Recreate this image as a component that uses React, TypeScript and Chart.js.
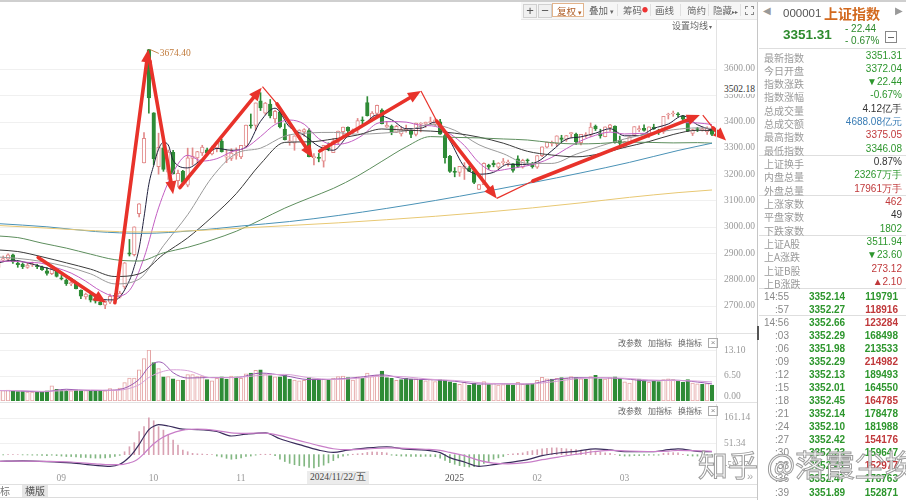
import React, { useEffect, useRef } from "react";
import { Chart, registerables } from "chart.js";

Chart.register(...registerables);

// ---------------- data: index 0 = 2024-08-15 ... index 147 = 2025-03-28 ----------------
const OPEN = [
  2846, 2873, 2877, 2893, 2862, 2857, 2846, 2855, 2853, 2846, 2833, 2822,
  2838, 2806, 2796, 2783, 2785, 2758, 2733, 2741, 2723, 2714, 2702, 2713, 2738, 2732, 2771, 2901, 2894, 3050, 3243,
  3674, 3433, 3229, 3300, 3208, 3283, 3175, 3212, 3158, 3260, 3262, 3281, 3293, 3277, 3300, 3326, 3265, 3260,
  3271, 3266, 3307, 3385, 3385, 3479, 3432, 3467, 3410, 3437, 3372, 3323, 3318, 3339, 3361, 3366, 3263, 3264, 3250, 3301, 3282,
  3322, 3362, 3378, 3360, 3367, 3404, 3472, 3413, 3431, 3444, 3379, 3383, 3359, 3353, 3367, 3365, 3351, 3390, 3390, 3396, 3390, 3399,
  3347, 3268, 3209, 3207, 3222, 3224, 3213, 3142, 3160, 3235, 3242, 3227, 3244, 3242, 3239, 3258, 3227, 3254,
  3241, 3227, 3270, 3303, 3317, 3316, 3338, 3332, 3354, 3353, 3320, 3347, 3348, 3383, 3356, 3343, 3377, 3383,
  3329, 3303, 3318, 3348, 3369, 3374, 3350, 3379, 3368, 3361, 3425, 3429, 3427, 3422, 3401, 3355, 3371, 3369, 3361, 3372.04,
];
const HIGH = [
  2880, 2889, 2897, 2896, 2866, 2863, 2862, 2866, 2857, 2851, 2845, 2853,
  2840, 2815, 2802, 2796, 2792, 2760, 2748, 2744, 2729, 2723, 2719, 2744, 2746, 2755, 2864, 2952, 3000, 3088, 3358,
  3674.4, 3434, 3356, 3312, 3292, 3291, 3216, 3215, 3299, 3300, 3287, 3310, 3299, 3307, 3324, 3333, 3293, 3297,
  3300, 3310, 3387, 3429, 3471, 3510, 3473, 3484, 3443, 3439, 3392, 3350, 3346, 3369, 3373, 3373, 3278, 3279, 3310, 3319, 3336,
  3364, 3379, 3380, 3372, 3412, 3418, 3495, 3438, 3463, 3449, 3401, 3387, 3386, 3379, 3387, 3370, 3394, 3396, 3398, 3417, 3411, 3409,
  3352, 3272, 3225, 3230, 3244, 3231, 3224, 3161, 3243, 3238, 3252, 3244, 3260, 3254, 3240, 3270, 3257, 3258,
  3245, 3271, 3304, 3322, 3326, 3346, 3348, 3347, 3359, 3356, 3352, 3358, 3395, 3387, 3371, 3380, 3390, 3384,
  3345, 3325, 3342, 3381, 3384, 3388, 3380, 3390, 3371, 3420, 3432, 3440, 3434, 3424, 3405, 3371, 3378, 3378, 3380, 3375.05,
];
const LOW = [
  2843, 2867, 2870, 2861, 2846, 2841, 2842, 2849, 2841, 2834, 2816, 2818,
  2809, 2798, 2777, 2776, 2764, 2727, 2725, 2714, 2710, 2703, 2689, 2708, 2729, 2729, 2765, 2889, 2889, 3038, 3243,
  3432, 3235, 3200, 3211, 3180, 3201, 3152, 3169, 3152, 3235, 3244, 3271, 3272, 3273, 3285, 3284, 3244, 3252,
  3257, 3259, 3303, 3375, 3367, 3442, 3427, 3414, 3395, 3376, 3330, 3310, 3291, 3333, 3344, 3266, 3235, 3247, 3227, 3289, 3282,
  3314, 3345, 3353, 3353, 3358, 3391, 3421, 3408, 3421, 3391, 3378, 3350, 3358, 3345, 3360, 3339, 3346, 3361, 3378, 3389, 3384, 3351,
  3242, 3207, 3190, 3192, 3180, 3210, 3164, 3141, 3160, 3218, 3228, 3222, 3235, 3231, 3208, 3226, 3223, 3241,
  3223, 3222, 3267, 3300, 3307, 3306, 3323, 3325, 3340, 3313, 3311, 3340, 3343, 3366, 3337, 3342, 3364, 3318,
  3297, 3300, 3316, 3346, 3362, 3364, 3339, 3370, 3351, 3355, 3410, 3420, 3418, 3403, 3362, 3347, 3362, 3364, 3351, 3346.08,
];
const CLOSE = [
  2877, 2879, 2893, 2866, 2856, 2848, 2854, 2855, 2848, 2837, 2823, 2842,
  2811, 2802, 2784, 2788, 2765, 2736, 2744, 2721, 2717, 2704, 2717, 2736, 2736, 2748, 2863, 2896, 3000, 3087, 3336,
  3490, 3259, 3302, 3218, 3284, 3201, 3203, 3169, 3262, 3268, 3286, 3303, 3280, 3300, 3322, 3286, 3266, 3280,
  3272, 3310, 3387, 3384, 3471, 3452, 3470, 3422, 3439, 3380, 3331, 3324, 3346, 3368, 3370, 3267, 3264, 3260, 3310, 3296, 3326,
  3364, 3379, 3365, 3369, 3404, 3403, 3423, 3432, 3462, 3392, 3386, 3361, 3382, 3370, 3368, 3351, 3394, 3393, 3398, 3400, 3407, 3352,
  3263, 3211, 3207, 3230, 3230, 3211, 3169, 3161, 3241, 3227, 3236, 3242, 3244, 3243, 3214, 3230, 3253, 3251,
  3229, 3271, 3304, 3322, 3318, 3346, 3332, 3347, 3356, 3324, 3352, 3351, 3379, 3373, 3346, 3380, 3388, 3321,
  3317, 3324, 3342, 3381, 3373, 3366, 3380, 3372, 3359, 3420, 3426, 3430, 3426, 3409, 3365, 3370, 3370, 3369, 3374, 3351.31,
];
// volume, 亿手
const VOLUME = [
  2.6, 2.7, 2.8, 2.5, 2.4, 2.4, 2.3, 2.3, 2.3, 2.4, 2.6, 3.9,
  3.0, 2.8, 2.8, 2.6, 2.8, 2.7, 2.7, 2.6, 2.6, 2.7, 2.6, 3.2, 2.9, 3.3,
  4.7, 5.9, 5.9, 8.0, 10.9, 13.1,
  9.9, 8.3, 6.2, 6.3, 5.7, 5.4, 5.3, 6.8, 6.8, 6.3, 6.4, 5.5, 5.2, 5.8, 6.2, 5.6, 6.4,
  6.2, 5.8, 7.0, 7.2, 7.9, 8.0, 7.0, 6.5, 6.2, 6.2, 6.6, 5.6, 5.4, 5.2, 5.3, 6.0, 5.7, 5.3, 5.6, 5.4, 5.9,
  6.3, 6.4, 6.0, 5.4, 6.2, 5.8, 7.2, 6.3, 6.6, 7.7, 6.0, 5.8, 5.3, 5.5, 5.8, 5.6, 5.7, 5.3, 5.2, 5.6, 5.0, 5.5,
  5.4, 4.9, 4.6, 4.3, 4.8, 4.0, 4.6, 4.1, 5.0, 4.2, 4.6, 4.1, 4.2, 4.2, 4.0, 4.8, 4.3, 4.4,
  4.5, 5.3, 6.1, 5.7, 5.6, 5.8, 6.0, 5.8, 6.3, 6.0, 5.7, 5.6, 6.3, 6.6, 5.7, 5.6, 6.0, 6.2,
  5.8, 4.9, 4.6, 5.6, 5.6, 5.2, 4.8, 5.1, 5.0, 5.5, 5.7, 5.5, 5.1, 4.8, 5.5, 4.6, 4.4, 4.3, 4.5, 4.12,
];
const MACD_HIST = [
  -2, -1, 0, 1, 0, -1, -1, -2, -2, -3, -4, -2, -4,
  -6, -8, -8, -10, -12, -12, -14, -15, -15, -14, -12, -8, -3,
  13, 35, 53, 101, 123, 162, 149, 123, 108, 89, 64, 42, 20, 13, 6,
  4, 3, 2, 1, -6, -10, -16, -20, -18, -14, -8, -6, -2, 2, 2, 2, -4,
  -20, -30, -38, -44, -48, -50, -56, -58, -52, -46, -36, -26,
  -14, -6, -2, 2, 4, 6, 10, 12, 12, 10, 8,
  -2, -4, -6, -7, -8, -8, -8, -7, -8, -9,
  -15, -25, -35, -42, -48, -52, -54, -53, -50, -38, -30, -20, -14, -8,
  2, 4, 6, 8, 14, 18, 22, 26, 28, 30, 30, 28, 26, 24,
  22, 20, 18, 18, 16, 12, 8, 6,
  0, -4, -6, -6, -4, -4, -3, -2, -2, -2,
  6, 8, 9, 8,
  2, -4, -6, -6, -5, -4, -6,
];

// moving averages (x = candle index)
const MA5_X = [0, 3, 6, 9, 12, 15, 18, 21, 24, 27, 28, 29, 30, 31, 32, 33, 34, 35, 36, 39, 42, 45, 48, 51, 54, 57, 60, 63, 66, 69, 72, 75, 78, 81, 84, 87, 90, 93, 96, 99, 102, 105, 108, 111, 114, 117, 120, 123, 126, 129, 132, 135, 138, 141, 144, 147];
const MA5 = [2863, 2873, 2863, 2848, 2832, 2805, 2763, 2724, 2722, 2796, 2849, 2919, 3036, 3162, 3234, 3295, 3321, 3311, 3253, 3224, 3258, 3298, 3291, 3303, 3401, 3451, 3379, 3348, 3306, 3291, 3346, 3384, 3425, 3407, 3373, 3375, 3398, 3327, 3228, 3200, 3207, 3238, 3237, 3247, 3289, 3333, 3342, 3356, 3373, 3346, 3347, 3374, 3391, 3422, 3388, 3367];
const MA10_X = [0, 3, 6, 9, 12, 15, 18, 21, 24, 27, 30, 33, 36, 39, 42, 45, 48, 51, 54, 57, 60, 63, 66, 69, 72, 75, 78, 81, 84, 87, 90, 93, 96, 99, 102, 105, 108, 111, 114, 117, 120, 123, 126, 129, 132, 135, 138, 141, 144, 147];
const MA10 = [2869, 2869, 2865, 2861, 2844, 2824, 2793, 2757, 2736, 2758, 2882, 3072, 3207, 3272, 3250, 3259, 3285, 3301, 3343, 3389, 3406, 3390, 3335, 3313, 3320, 3348, 3393, 3400, 3398, 3386, 3382, 3354, 3309, 3244, 3212, 3220, 3229, 3241, 3264, 3297, 3327, 3348, 3360, 3353, 3355, 3356, 3374, 3396, 3395, 3389];
const MA_LONG_X = [0, 4, 9, 14, 19, 24, 29, 34, 39, 44, 49, 54, 59, 64, 69, 74, 79, 84, 89, 94, 99, 104, 109, 114, 119, 124, 129, 134, 139, 144, 147];
const MA20 = [2885, 2880, 2868, 2849, 2821, 2783, 2801, 2928, 3046, 3188, 3279, 3299, 3345, 3357, 3359, 3352, 3356, 3365, 3389, 3367, 3312, 3278, 3241, 3241, 3276, 3307, 3334, 3354, 3369, 3376, 3374];
const MA30 = [2912, 2906, 2886, 2863, 2839, 2811, 2821, 2895, 2958, 3037, 3126, 3239, 3321, 3323, 3334, 3349, 3372, 3367, 3364, 3356, 3341, 3318, 3287, 3273, 3266, 3278, 3302, 3324, 3351, 3367, 3366];
const MA60 = [2965, 2959, 2938, 2919, 2896, 2875, 2870, 2901, 2922, 2950, 2983, 3026, 3071, 3109, 3146, 3193, 3249, 3304, 3343, 3340, 3338, 3334, 3330, 3320, 3315, 3317, 3322, 3321, 3319, 3320, 3318];
const MA_SLOW_X = [0, 10, 20, 30, 40, 50, 60, 70, 80, 90, 100, 110, 120, 130, 140, 147];
const MA120 = [3012, 3000, 2982, 2975, 2985, 3003, 3020, 3043, 3070, 3100, 3133, 3168, 3205, 3245, 3290, 3318];
const MA250 = [3005, 2995, 2985, 2980, 2985, 2995, 3005, 3015, 3027, 3040, 3055, 3072, 3091, 3112, 3130, 3140];

const VOL_MA5_X = [0, 4, 9, 14, 19, 24, 29, 31, 33, 34, 36, 39, 44, 49, 54, 59, 64, 69, 74, 79, 84, 89, 94, 99, 104, 109, 114, 119, 124, 129, 134, 139, 144, 147];
const VOL_MA5 = [2.7, 2.6, 2.34, 3.02, 2.68, 2.8, 5.56, 8.76, 10.04, 9.68, 7.28, 5.9, 6.04, 6.04, 7.18, 6.5, 5.5, 5.58, 6.06, 6.72, 5.68, 5.48, 5.08, 4.36, 4.42, 4.34, 5.44, 5.98, 5.98, 5.7, 5.16, 5.36, 4.88, 4.38];
const VOL_MA10_X = [0, 4, 9, 14, 19, 24, 29, 31, 34, 36, 39, 44, 49, 54, 59, 64, 69, 74, 79, 84, 89, 94, 99, 104, 109, 114, 119, 124, 129, 134, 139, 144, 147];
const VOL_MA10 = [2.7, 2.7, 2.47, 2.68, 2.85, 2.74, 4.18, 6.05, 7.62, 8.02, 7.79, 5.97, 6.04, 6.61, 6.84, 6.0, 5.54, 5.82, 6.39, 6.2, 5.58, 5.28, 4.72, 4.39, 4.38, 4.89, 5.71, 5.98, 5.84, 5.43, 5.26, 5.12, 4.9];

const MACD_X = [0, 5, 10, 15, 20, 23, 25, 27, 28, 29, 30, 31, 32, 33, 35, 38, 41, 45, 48, 51, 55, 58, 62, 66, 69, 72, 76, 80, 84, 88, 91, 93, 96, 99, 102, 105, 109, 112, 116, 119, 123, 126, 129, 132, 135, 138, 140, 144, 147];
const DIF = [-29, -27, -30, -36, -47, -51, -42, -10, 15, 45, 80, 110, 125, 132, 126, 112, 110, 102, 82, 90, 96, 70, 44, 20, 10, 20, 30, 35, 24, 20, 9, -13, -32, -51, -44, -35, -22, -4, 9, 15, 26, 21, 13, 13, 13, 22, 26, 15, 13];
const DEA = [-29, -28, -29, -32, -40, -44, -44, -36, -29, -15, 5, 27, 48, 65, 88, 108, 112, 106, 96, 94, 95, 84, 62, 40, 26, 22, 25, 30, 28, 24, 19, 10, -4, -25, -37, -40, -34, -22, -8, 2, 14, 19, 17, 15, 14, 16, 19, 17, 15];

// axis ticks
const PRICE_TICKS = [2700, 2800, 2900, 3000, 3100, 3200, 3300, 3400, 3500, 3600];
const VOL_TICKS = [13.1, 6.5, 0];
const MACD_TICKS = [161.14, 51.34, -58.27];
const X_TICK_IDX = [12, 31, 49, 92, 110, 128];
const X_TICK_LABELS = ["09", "10", "11", "2025", "02", "03"];

// hand-drawn trend arrows (candle index, price)
const ARROWS = [
  [8.2, 2883, 22.2, 2711],
  [24.0, 2711, 30.9, 3675],
  [31.2, 3630, 36.0, 3124],
  [37.4, 3149, 54.24, 3529],
  [57.4, 3467, 64.8, 3262],
  [66.2, 3288, 87.05, 3516],
  [90.3, 3402, 102.65, 3108],
  [110.1, 3174, 144.5, 3425],
  [147.2, 3376, 149.9, 3328],
];
const THIN_LINES = [
  [54.4, 3533, 57.4, 3467],
  [87.05, 3516, 90.3, 3402],
  [102.65, 3108, 110.1, 3174],
  [145.1, 3425, 147.2, 3376],
];

// right-hand quote panel
const INFO_LABELS = ["最新指数", "今日开盘", "指数涨跌", "指数涨幅", "总成交量", "总成交额", "最高指数", "最低指数", "上证换手", "内盘总量", "外盘总量", "上涨家数", "平盘家数", "下跌家数", "上证A股", "上A涨跌", "上证B股", "上B涨跌"];
const INFO_VALUES = ["3351.31", "3372.04", "▼22.44", "-0.67%", "4.12亿手", "4688.08亿元", "3375.05", "3346.08", "0.87%", "23267万手", "17961万手", "462", "49", "1802", "3511.94", "▼23.60", "273.12", "▲2.10"];
const INFO_TONES = ["g", "g", "g", "g", "d", "b", "r", "g", "d", "g", "r", "r", "d", "g", "g", "g", "r", "r"];
const TICK_TIMES = ["14:55", ":57", "14:56", ":03", ":06", ":09", ":12", ":15", ":18", ":21", ":24", ":27", ":30", ":33", ":36", ":39"];
const TICK_PRICES = ["3352.14", "3352.27", "3352.66", "3352.29", "3351.98", "3352.29", "3352.13", "3352.01", "3352.45", "3352.14", "3352.10", "3352.42", "3352.23", "3352.41", "3352.47", "3351.89"];
const TICK_VOLS = ["119791", "118916", "123284", "168498", "213533", "214982", "189493", "164550", "164785", "178478", "181988", "154176", "159647", "152977", "178763", "152871"];
const TICK_TONES = ["g", "r", "r", "g", "g", "r", "g", "g", "r", "g", "g", "r", "g", "r", "g", "g"];

// ---------------- styling ----------------
const X_MIN = 0.34;
const X_MAX = 147.82;
const UP = "#e28a8a";
const UP_VOL = "#e4a4a4";
const DOWN = "#2e8b36";
const RED_ARROW = "#e8322a";
const SERIF = "'Liberation Serif', 'DejaVu Serif', serif";
const CJK = "'Noto Sans CJK SC', sans-serif";
const SANS = "'Liberation Sans', Arial, sans-serif";
const TONE: any = { g: "#2d962d", r: "#c0393b", b: "#3b7db5", d: "#333333" };

function lineSet(xs: number[], ys: number[], color: string, width = 1) {
  return {
    type: "line",
    data: xs.map((x, k) => ({ x, y: ys[k] })),
    borderColor: color,
    borderWidth: width,
    pointRadius: 0,
    fill: false,
    cubicInterpolationMode: "monotone",
    order: 0,
  };
}

// right-side value axis drawn through the chart's own y scale
function sideAxis(ticks: number[], fullBorder: boolean) {
  return {
    id: "sideAxis",
    beforeDatasetsDraw(chart: any) {
      const { ctx, chartArea, scales } = chart;
      ctx.save();
      ctx.strokeStyle = "#f0f0f0";
      ctx.lineWidth = 1;
      ticks.forEach((v) => {
        const py = Math.round(scales.y.getPixelForValue(v)) + 0.5;
        if (py < chartArea.bottom - 3) {
          ctx.beginPath();
          ctx.moveTo(chartArea.left, py);
          ctx.lineTo(chartArea.right, py);
          ctx.stroke();
        }
      });
      ctx.restore();
    },
    afterDraw(chart: any) {
      const { ctx, chartArea, scales } = chart;
      ctx.save();
      ctx.strokeStyle = "#e3e3e3";
      ctx.lineWidth = 1;
      ctx.beginPath();
      ctx.moveTo(Math.round(chartArea.right) + 0.5, 0);
      ctx.lineTo(Math.round(chartArea.right) + 0.5, fullBorder ? chart.height : chartArea.bottom);
      ctx.stroke();
      ctx.font = `9.5px ${SERIF}`;
      ctx.fillStyle = "#999";
      ctx.textBaseline = "middle";
      ctx.textAlign = "left";
      ticks.forEach((v) => {
        const py = Math.min(scales.y.getPixelForValue(v), chartArea.bottom - 5);
        ctx.fillText(v.toFixed(2), chartArea.right + 8, py);
      });
      ctx.restore();
    },
  };
}

function drawArrow(ctx: any, x1: number, y1: number, x2: number, y2: number) {
  const dx = x2 - x1, dy = y2 - y1;
  const len = Math.hypot(dx, dy);
  const ux = dx / len, uy = dy / len;
  const head = 13, half = 5.5;
  const bx = x2 - ux * head, by = y2 - uy * head;
  ctx.lineWidth = 3.6;
  ctx.lineCap = "round";
  ctx.beginPath();
  ctx.moveTo(x1, y1);
  ctx.lineTo(bx + ux * 2, by + uy * 2);
  ctx.stroke();
  ctx.beginPath();
  ctx.moveTo(x2, y2);
  ctx.lineTo(bx - uy * half, by + ux * half);
  ctx.lineTo(bx + uy * half, by - ux * half);
  ctx.closePath();
  ctx.fill();
}

const annotationPlugin = {
  id: "annotations",
  afterDatasetsDraw(chart: any) {
    const { ctx, scales } = chart;
    const X = (v: number) => scales.x.getPixelForValue(v);
    const Y = (v: number) => scales.y.getPixelForValue(v);
    ctx.save();
    const peak = HIGH.indexOf(Math.max(...HIGH));
    const px = X(peak), py = Y(HIGH[peak]);
    ctx.strokeStyle = "#c8884e";
    ctx.lineWidth = 1;
    ctx.beginPath();
    ctx.moveTo(px + 1, py);
    ctx.lineTo(px + 10, py + 4);
    ctx.stroke();
    ctx.fillStyle = "#c07a3a";
    ctx.font = `9.5px ${SERIF}`;
    ctx.textBaseline = "middle";
    ctx.fillText(HIGH[peak].toFixed(2), px + 11, py + 4);
    ctx.strokeStyle = RED_ARROW;
    ctx.fillStyle = RED_ARROW;
    ctx.lineWidth = 1.2;
    THIN_LINES.forEach(([a, b, c, d]) => {
      ctx.beginPath();
      ctx.moveTo(X(a), Y(b));
      ctx.lineTo(X(c), Y(d));
      ctx.stroke();
    });
    ARROWS.forEach(([a, b, c, d]) => drawArrow(ctx, X(a), Y(b), X(c), Y(d)));
    ctx.restore();
  },
};

export default function App() {
  const mainRef = useRef<HTMLCanvasElement>(null);
  const volRef = useRef<HTMLCanvasElement>(null);
  const macdRef = useRef<HTMLCanvasElement>(null);

  useEffect(() => {
    document.body.style.margin = "0";
    const idx = CLOSE.map((_, i) => i);
    const candleUp = (i: number) => CLOSE[i] >= OPEN[i];
    const volUp = (i: number) => (i === 0 ? CLOSE[0] >= OPEN[0] : CLOSE[i] >= CLOSE[i - 1]);
    const xHidden: any = { type: "linear", min: X_MIN, max: X_MAX, offset: false, display: false };
    const base: any = {
      animation: false,
      responsive: false,
      events: [],
      plugins: { legend: { display: false }, tooltip: { enabled: false } },
    };

    const main = new Chart(mainRef.current as any, {
      type: "bar",
      data: {
        datasets: [
          lineSet(MA_SLOW_X, MA250, "#e8c873"),
          lineSet(MA_SLOW_X, MA120, "#4a92b6"),
          lineSet(MA_LONG_X, MA60, "#5d8e5d"),
          lineSet(MA_LONG_X, MA30, "#3a3a3a"),
          lineSet(MA_LONG_X, MA20, "#9a9a9a"),
          lineSet(MA10_X, MA10, "#c25ec2"),
          lineSet(MA5_X, MA5, "#22223e"),
          {
            type: "bar",
            data: idx.map((i) => ({ x: i, y: [Math.min(OPEN[i], CLOSE[i]), Math.max(OPEN[i], CLOSE[i])] })),
            backgroundColor: idx.map((i) => (candleUp(i) ? "#ffffff" : DOWN)),
            borderColor: idx.map((i) => (candleUp(i) ? UP : DOWN)),
            borderWidth: 1,
            borderSkipped: false,
            barThickness: 3.6,
            minBarLength: 1,
            grouped: false,
            order: 1,
          },
          {
            type: "bar",
            data: idx.map((i) => ({ x: i, y: [LOW[i], HIGH[i]] })),
            backgroundColor: idx.map((i) => (candleUp(i) ? UP : DOWN)),
            borderWidth: 0,
            barThickness: 1,
            grouped: false,
            order: 2,
          },
        ],
      } as any,
      options: {
        ...base,
        layout: { padding: { top: 0, bottom: 0, left: 0, right: 41 }, autoPadding: false },
        scales: { x: xHidden, y: { display: false, min: 2592.4, max: 3793.9 } },
      } as any,
      plugins: [sideAxis(PRICE_TICKS, true) as any, annotationPlugin as any],
    });

    const vol = new Chart(volRef.current as any, {
      type: "bar",
      data: {
        datasets: [
          lineSet(VOL_MA10_X, VOL_MA10, "#d8a0d8"),
          lineSet(VOL_MA5_X, VOL_MA5, "#9a5ab2"),
          {
            type: "bar",
            data: idx.map((i) => ({ x: i, y: VOLUME[i] })),
            backgroundColor: idx.map((i) => (volUp(i) ? "#ffffff" : DOWN)),
            borderColor: idx.map((i) => (volUp(i) ? UP_VOL : DOWN)),
            borderWidth: 1,
            borderSkipped: false,
            barThickness: 3.6,
            grouped: false,
            order: 1,
          },
        ],
      } as any,
      options: {
        ...base,
        layout: { padding: { top: 16, bottom: 3, right: 41, left: 0 }, autoPadding: false },
        scales: { x: xHidden, y: { display: false, min: 0, max: 13.1 } },
      } as any,
      plugins: [sideAxis(VOL_TICKS, false) as any],
    });

    const macd = new Chart(macdRef.current as any, {
      type: "bar",
      data: {
        datasets: [
          lineSet(MACD_X, DEA, "#c87ec8", 1.2),
          lineSet(MACD_X, DIF, "#3a2c5c", 1.2),
          {
            type: "bar",
            data: idx.map((i) => ({ x: i, y: MACD_HIST[i] })),
            backgroundColor: idx.map((i) => (MACD_HIST[i] >= 0 ? "#d9a2b3" : "#82b782")),
            borderWidth: 0,
            barThickness: 1,
            grouped: false,
            order: 1,
          },
        ],
      } as any,
      options: {
        ...base,
        layout: { padding: { top: 10, bottom: 0, right: 41, left: 0 }, autoPadding: false },
        scales: {
          x: {
            type: "linear",
            min: X_MIN,
            max: X_MAX,
            offset: false,
            afterBuildTicks: (axis: any) => {
              axis.ticks = X_TICK_IDX.map((value) => ({ value }));
            },
            afterFit: (axis: any) => {
              axis.height = 16;
            },
            grid: { display: false, drawTicks: false },
            border: { display: false },
            ticks: {
              align: "start",
              padding: 3,
              maxRotation: 0,
              minRotation: 0,
              autoSkip: false,
              color: (c: any) => (c.index === 3 ? "#555" : "#999"),
              font: { family: SERIF, size: 9.5 },
              callback: (_v: any, i: number) => X_TICK_LABELS[i],
            },
          },
          y: { display: false, min: -67.2, max: 178.7 },
        },
      } as any,
      plugins: [sideAxis(MACD_TICKS, false) as any],
    });

    return () => {
      main.destroy();
      vol.destroy();
      macd.destroy();
    };
  }, []);

  const abs = (o: any) => ({ position: "absolute", ...o } as any);
  const toolText = { fontSize: 9.5, color: "#666", lineHeight: "16px", whiteSpace: "nowrap" };
  const hdr = { fontSize: 8, color: "#666", lineHeight: "12px", whiteSpace: "nowrap" };

  return (
    <div style={{ position: "relative", width: 906, height: 500, overflow: "hidden", background: "#fff", fontFamily: CJK }}>
      <canvas ref={mainRef} width={757} height={316} style={abs({ left: 0, top: 18 })} />
      <canvas ref={volRef} width={757} height={70} style={abs({ left: 0, top: 334 })} />
      <canvas ref={macdRef} width={757} height={82} style={abs({ left: 0, top: 404 })} />

      {/* top strip + toolbar */}
      <div style={abs({ left: 0, top: 0, width: 906, height: 2, background: "#cfcfcf" })} />
      <div style={abs({ left: 521, top: 2, width: 236, height: 17, background: "#f6f6f6", borderBottom: "1px solid #e6e6e6" })} />
      <div style={abs({ left: 523, top: 4, width: 12, height: 12, border: "1px solid #d0d0d0", background: "#f0f0f0", textAlign: "center", fontSize: 13, lineHeight: "12px", color: "#555", fontFamily: SANS })}>+</div>
      <div style={abs({ left: 538, top: 4, width: 12, height: 12, border: "1px solid #d0d0d0", background: "#f0f0f0", textAlign: "center", fontSize: 13, lineHeight: "11px", color: "#555", fontFamily: SANS })}>−</div>
      <div style={abs({ left: 552, top: 3, width: 32, height: 14, border: "1px solid #e2b48c", background: "#fff", ...toolText, lineHeight: "14px", color: "#b0602a", paddingLeft: 4, boxSizing: "border-box" })}>复权<span style={{ fontSize: 7 }}> ▾</span></div>
      <div style={abs({ left: 589, top: 2, ...toolText })}>叠加<span style={{ fontSize: 7 }}> ▾</span></div>
      <div style={abs({ left: 617, top: 4, width: 1, height: 12, background: "#e0e0e0" })} />
      <div style={abs({ left: 623, top: 2, ...toolText })}>筹码<span style={{ color: "#e33", fontSize: 6, verticalAlign: "top" }}>●</span></div>
      <div style={abs({ left: 650, top: 4, width: 1, height: 12, background: "#e0e0e0" })} />
      <div style={abs({ left: 655, top: 2, ...toolText })}>画线</div>
      <div style={abs({ left: 680, top: 4, width: 1, height: 12, background: "#e0e0e0" })} />
      <div style={abs({ left: 687, top: 2, ...toolText })}>简约</div>
      <div style={abs({ left: 708, top: 4, width: 1, height: 12, background: "#e0e0e0" })} />
      <div style={abs({ left: 713, top: 2, ...toolText })}>隐藏<span style={{ fontSize: 6 }}>▸▸</span></div>
      <div style={abs({ left: 740, top: 4, width: 1, height: 12, background: "#e0e0e0" })} />
      <div style={abs({ left: 745, top: 6, width: 7, height: 7, border: "1px dashed #888" })} />

      <div style={abs({ left: 672, top: 19, fontSize: 9, color: "#666", lineHeight: "13px", whiteSpace: "nowrap" })}>设置均线<span style={{ fontSize: 6 }}> ▾</span></div>

      {/* crosshair price tag */}
      <div style={abs({ left: 721, top: 84, width: 35, height: 10, background: "#fff", fontFamily: SERIF, fontSize: 9.5, color: "#333", lineHeight: "10px", paddingLeft: 3, boxSizing: "border-box" })}>3502.18</div>

      {/* panel separators and headers */}
      <div style={abs({ left: 0, top: 333, width: 757, height: 1, background: "#e2e2e2" })} />
      <div style={abs({ left: 0, top: 402, width: 757, height: 1, background: "#e2e2e2" })} />
      {[337, 405].map((t) => (
        <React.Fragment key={t}>
          <div style={abs({ left: 618, top: t, ...hdr })}>改参数</div>
          <div style={abs({ left: 648, top: t, ...hdr })}>加指标</div>
          <div style={abs({ left: 678, top: t, ...hdr })}>换指标</div>
          <div style={abs({ left: 708, top: t + 1, width: 8, height: 8, border: "1px solid #aaa", fontSize: 8, lineHeight: "8px", textAlign: "center", color: "#888", fontFamily: SANS })}>×</div>
        </React.Fragment>
      ))}

      {/* crosshair date tag, x-axis end, bottom bar */}
      <div style={abs({ left: 307, top: 471, height: 13, padding: "0 3px", background: "#ececec", fontFamily: SERIF, fontSize: 9.5, color: "#444", lineHeight: "13px" })}>2024/11/22/五</div>
      <div style={abs({ left: 747, top: 470, fontSize: 11, color: "#aaa", fontFamily: SANS })}>»</div>
      <div style={abs({ left: 0, top: 484, width: 757, height: 1, background: "#e0e0e0" })} />
      <div style={abs({ left: 0, top: 485, fontSize: 10, color: "#777", lineHeight: "12px" })}>标</div>
      <div style={abs({ left: 22, top: 485, width: 26, height: 12, background: "#e6e6e6", fontSize: 10, color: "#555", lineHeight: "12px", textAlign: "center" })}>横版</div>
      <div style={abs({ left: 0, top: 497, width: 757, height: 1, background: "#dcdcdc" })} />

      {/* right quote panel */}
      <div style={abs({ left: 757, top: 2, width: 149, height: 498, borderLeft: "1px solid #c6c6c6", background: "#fff" })} />
      <div style={abs({ left: 757, top: 326, width: 2, height: 14, background: "#555" })} />
      <div style={abs({ left: 763, top: 5, fontSize: 10, color: "#999", fontFamily: "'DejaVu Sans', sans-serif" })}>◀</div>
      <div style={abs({ left: 783, top: 5, fontSize: 11.5, color: "#555", fontFamily: SANS, lineHeight: "16px" })}>000001</div>
      <div style={abs({ left: 824, top: 2, fontSize: 14, fontWeight: 700, color: "#d2691e", lineHeight: "22px" })}>上证指数</div>
      <div style={abs({ left: 895, top: 5, fontSize: 10, color: "#999", fontFamily: "'DejaVu Sans', sans-serif" })}>▶</div>
      <div style={abs({ left: 783, top: 26, fontSize: 13.5, fontWeight: 700, color: "#2d8a2d", fontFamily: SANS, lineHeight: "18px" })}>3351.31</div>
      <div style={abs({ left: 845, top: 23, fontSize: 10, color: "#2d8a2d", fontFamily: SANS, lineHeight: "12px" })}>- 22.44</div>
      <div style={abs({ left: 845, top: 35, fontSize: 10, color: "#2d8a2d", fontFamily: SANS, lineHeight: "12px" })}>- 0.67%</div>
      <div style={abs({ left: 885, top: 31, width: 10, height: 10, border: "1px solid #888" })}>
        <div style={abs({ left: 2, top: 5, width: 6, height: 1, background: "#666" })} />
      </div>
      {[48, 155, 195, 235, 288, 315].map((t) => (
        <div key={t} style={abs({ left: 759, top: t, width: 147, height: 1, background: "#dedede" })} />
      ))}
      {INFO_LABELS.map((lab, i) => (
        <div key={lab} style={abs({ left: 764, top: 48.5 + i * 13.33, width: 138, height: 13, lineHeight: "13px" })}>
          <span style={{ fontSize: 10, color: "#9a9a9a" }}>{lab}</span>
          <span style={{ position: "absolute", right: 0, fontSize: 10, color: TONE[INFO_TONES[i]], fontFamily: SANS }}>{INFO_VALUES[i]}</span>
        </div>
      ))}
      {TICK_TIMES.map((t, j) => (
        <div key={j} style={abs({ left: 759, top: 289.5 + j * 13.07, width: 140, height: 13, lineHeight: "13px", fontFamily: SANS })}>
          <span style={{ position: "absolute", right: 110, fontSize: 10, color: "#888" }}>{t}</span>
          <span style={{ position: "absolute", left: 50, fontSize: 10, fontWeight: 700, color: "#2d962d" }}>{TICK_PRICES[j]}</span>
          <span style={{ position: "absolute", right: 1, fontSize: 10, fontWeight: 700, color: TONE[TICK_TONES[j]] }}>{TICK_VOLS[j]}</span>
        </div>
      ))}

      {/* watermark */}
      <div style={abs({ left: 698, top: 444, fontSize: 30, color: "rgba(255,255,255,0.92)", WebkitTextStroke: "1px #9c9c9c", whiteSpace: "nowrap", lineHeight: "38px" })}>
        知乎 <span style={{ marginLeft: 2 }}>@落霞尘埃</span>
      </div>
    </div>
  );
}
